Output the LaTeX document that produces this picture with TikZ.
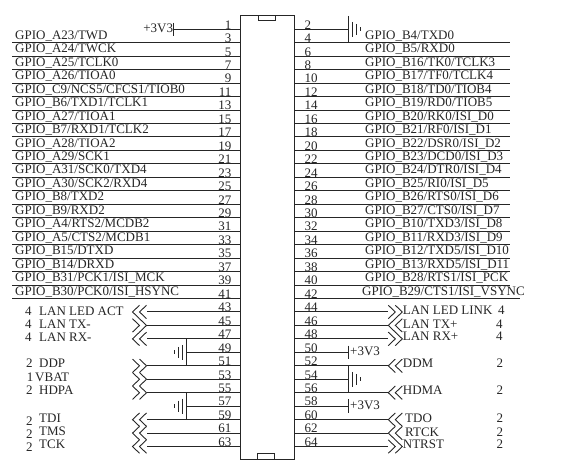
\documentclass[tikz,border=0pt]{standalone}
\usepackage{fontspec}
\setmainfont{Liberation Serif}
\tikzset{
  x=1pt,y=-1pt,
  wire/.style={line width=1pt,black!85},
  thinw/.style={line width=0.9pt,black!85},
  sig/.style={anchor=base west,font=\fontsize{13}{14}\selectfont,inner sep=0pt,text=black!85},
  sigr/.style={sig,anchor=base east},
  pinl/.style={sig,anchor=base east},
  pinr/.style={sig,anchor=base west},
  chevl/.pic={\draw[thinw] (7,-6.7)--(0,0)--(7,6.7); \draw[thinw] (14,-6.7)--(7,0)--(14,6.7);},
  chevr/.pic={\draw[thinw] (0,-6.7)--(7,0)--(0,6.7); \draw[thinw] (7,-6.7)--(14,0)--(7,6.7);},
  gndr/.pic={\draw[wire] (0,-13.46)--(0,13.46); \draw[thinw] (4,-7.5)--(4,7.5); \draw[thinw] (8,-5.5)--(8,5.5); \draw[thinw] (12.3,-2)--(12.3,2);},
  gndl/.pic={\draw[wire] (0,-13.46)--(0,13.46); \draw[thinw] (-4,-7.5)--(-4,7.5); \draw[thinw] (-8,-5.5)--(-8,5.5); \draw[thinw] (-12.3,-2)--(-12.3,2);},
}
\newcommand{\pinY}[1]{29.3+13.46*(#1)}
\begin{document}
\begin{tikzpicture}
\useasboundingbox (0,0) rectangle (563,462);
% connector body
\draw[wire] (240.3,15.8) rectangle (294.3,460);
\draw[wire] (258.5,15.8) rectangle (275.5,21);
\draw[wire] (257.7,453.5) rectangle (274.5,460);
% pins
\foreach \n [count=\i from 0] in {1,3,5,...,63}{
  \coordinate (L\n) at (240.3,{\pinY{\i}});
  \node[pinl] (numL\n) at (231.5,{\pinY{\i}-0.2}) {\n};
}
\foreach \n [count=\i from 0] in {2,4,...,64}{
  \coordinate (R\n) at (294.3,{\pinY{\i}});
  \node[pinr] (numR\n) at (304.5,{\pinY{\i}-0.2}) {\n};
}
% GPIO rows
\foreach \n/\t in {
 3/{GPIO\_A23/TWD},5/{GPIO\_A24/TWCK},7/{GPIO\_A25/TCLK0},9/{GPIO\_A26/TIOA0},
 11/{GPIO\_C9/NCS5/CFCS1/TIOB0},13/{GPIO\_B6/TXD1/TCLK1},15/{GPIO\_A27/TIOA1},
 17/{GPIO\_B7/RXD1/TCLK2},19/{GPIO\_A28/TIOA2},21/{GPIO\_A29/SCK1},
 23/{GPIO\_A31/SCK0/TXD4},25/{GPIO\_A30/SCK2/RXD4},27/{GPIO\_B8/TXD2},
 29/{GPIO\_B9/RXD2},31/{GPIO\_A4/RTS2/MCDB2},33/{GPIO\_A5/CTS2/MCDB1},
 35/{GPIO\_B15/DTXD},37/{GPIO\_B14/DRXD},39/{GPIO\_B31/PCK1/ISI\_MCK},
 41/{GPIO\_B30/PCK0/ISI\_HSYNC}}{
  \coordinate (eL\n) at (11.7,0 |- L\n);
  \draw[wire] (L\n) -- (eL\n);
  \path (eL\n) ++(3.3,-3.4) node[sig] (tL\n) {\t};
}
\foreach \n/\t in {
 4/{GPIO\_B4/TXD0},6/{GPIO\_B5/RXD0},8/{GPIO\_B16/TK0/TCLK3},10/{GPIO\_B17/TF0/TCLK4},
 12/{GPIO\_B18/TD0/TIOB4},14/{GPIO\_B19/RD0/TIOB5},16/{GPIO\_B20/RK0/ISI\_D0},
 18/{GPIO\_B21/RF0/ISI\_D1},20/{GPIO\_B22/DSR0/ISI\_D2},22/{GPIO\_B23/DCD0/ISI\_D3},
 24/{GPIO\_B24/DTR0/ISI\_D4},26/{GPIO\_B25/RI0/ISI\_D5},28/{GPIO\_B26/RTS0/ISI\_D6},
 30/{GPIO\_B27/CTS0/ISI\_D7},32/{GPIO\_B10/TXD3/ISI\_D8},34/{GPIO\_B11/RXD3/ISI\_D9},
 36/{GPIO\_B12/TXD5/ISI\_D10},38/{GPIO\_B13/RXD5/ISI\_D11},40/{GPIO\_B28/RTS1/ISI\_PCK}}{
  \coordinate (eR\n) at (510,0 |- R\n);
  \draw[wire] (R\n) -- (eR\n);
  \path (eR\n) ++(-145,-3.4) node[sig] (tR\n) {\t};
}
\coordinate (eR42) at (519.5,0 |- R42);
\draw[wire] (R42) -- (eR42);
\path (eR42) ++(-157.5,-3.4) node[sig] (tR42) {GPIO\_B29/CTS1/ISI\_VSYNC};
% +3V3 pins
\coordinate (bar1) at (173.3,0 |- L1);
\draw[wire] (L1) -- (bar1);
\draw[thinw] (bar1) ++(0,-6.7) -- ++(0,13.4);
\path (bar1) ++(0,3) node[sigr] (v1) {+3V3};
\foreach \n in {50,58}{
  \coordinate (bar\n) at (348.3,0 |- R\n);
  \draw[wire] (R\n) -- (bar\n);
  \draw[thinw] (bar\n) ++(0,-6.7) -- ++(0,13.4);
  \path (bar\n) ++(1.7,3) node[sig] (v\n) {+3V3};
}
% grounds
\foreach \n in {2,54}{
  \coordinate (g\n) at (348.3,0 |- R\n);
  \draw[wire] (R\n) -- (g\n);
  \pic at (g\n) {gndr};
}
\foreach \n in {52,56}{ }
\foreach \n in {49,57}{
  \coordinate (g\n) at (186.7,0 |- L\n);
  \draw[wire] (L\n) -- (g\n);
  \pic at (g\n) {gndl};
}
% left chevron pins
\foreach \n/\k in {43/chevl,45/chevr,47/chevl,51/chevr,53/chevr,55/chevr,59/chevl,61/chevl,63/chevl}{
  \coordinate (c\n) at (146.5,0 |- L\n);
  \draw[wire] (L\n) -- (c\n);
  \pic at ([xshift=-14pt]c\n) {\k};
}
% right chevron pins
\foreach \n/\k in {44/chevr,46/chevl,48/chevr,52/chevl,56/chevl,60/chevl,62/chevl,64/chevr}{
  \coordinate (c\n) at (388.3,0 |- R\n);
  \draw[wire] (R\n) -- (c\n);
  \pic at (c\n) {\k};
}
% left-lower labels
\foreach \nm/\x/\y/\t in {
 a/25/315.3/4,b/39/315.3/LAN LED ACT,
 c/25/328.5/4,d/39/328.5/LAN TX-,
 e/25/341.7/4,f/39/341.7/LAN RX-,
 g/26/367.7/2,h/39/367.7/DDP,
 i/26.7/382/1,j/35/382/VBAT,
 k/26/395/2,l/39/395/HDPA,
 m/26/426/2,n/39/422.3/TDI,
 o/26/439/2,p/39/435.7/TMS,
 q/26/451.5/2,r/39/449/TCK,
 s/402.7/315/LAN LED LINK,t/498/315/4,
 u/402.7/328.3/LAN TX+,v/496/328.3/4,
 w/402.7/340.7/LAN RX+,x/496/340.7/4,
 y/402.7/368/DDM,z/496.5/368/2,
 A/402.7/395/HDMA,B/496.5/395/2,
 C/405/422.7/TDO,D/496.5/422.7/2,
 E/405/436.7/RTCK,F/496.5/436.7/2,
 G/402.7/449/NTRST,H/496.5/449/2}{
  \node[sig] (lab\nm) at (\x,\y) {\t};
}
\end{tikzpicture}
\end{document}
